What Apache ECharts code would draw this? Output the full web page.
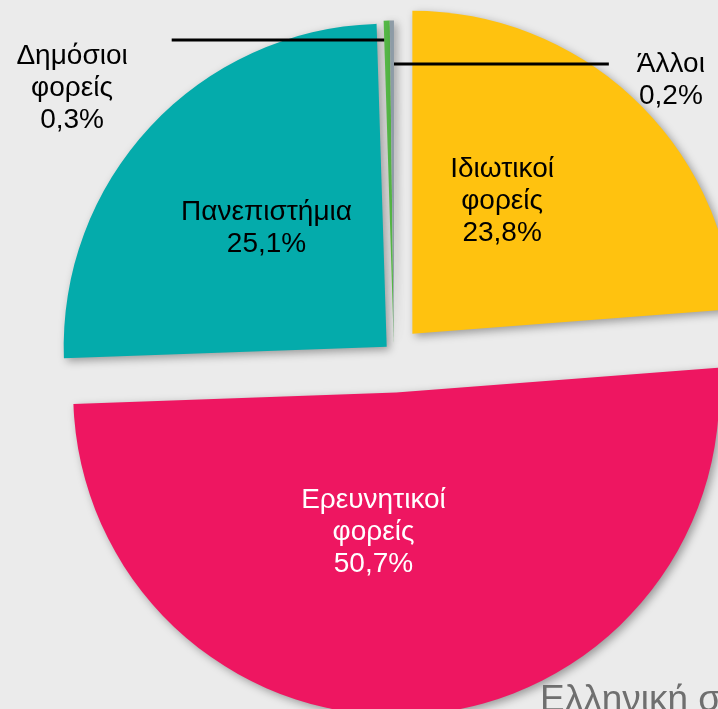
<!DOCTYPE html>
<html><head><meta charset="utf-8">
<script src="https://cdn.jsdelivr.net/npm/echarts@6/dist/echarts.min.js"></script>
<style>html,body{margin:0;padding:0;background:#ebebeb;overflow:hidden}#c{width:718px;height:709px}</style>
</head><body><div id="c"></div>
<script>
// ---- data ----
const categories = ['Ιδιωτικοί\nφορείς', 'Ερευνητικοί\nφορείς', 'Πανεπιστήμια', 'Δημόσιοι\nφορείς', 'Άλλοι'];
const shares = [23.8, 50.7, 25.1, 0.3, 0.2];
const footerText = 'Ελληνική σ';

// ---- styles ----
const colors = ['#FFC20F', '#EE1661', '#04ABAB', '#56B947', '#8D9BA6'];
const labelColors = ['#000', '#fff', '#000', '#000', '#000'];
const groups = [[0], [1], [2], [3, 4]];
const groupOffset = [27, 39, 10, 10];
// label shifts relative to the library's default label position
const labelShift = {0: [-22, -12], 1: [-32, -24], 2: [0, -6], 3: [-210, 19.5], 4: [318, 43.5]};
// leader-line labels: side of the slice, blank lines above, horizontal padding
const leaders = {3: {side: 'left', blank: 3, padding: [0, 44, 0, 0]},
                 4: {side: 'right', blank: 1, padding: [0, 0, 0, 28]}};
const FONT = '"Liberation Sans", Arial, sans-serif';

function pct(v) { return v.toFixed(1).replace('.', ',') + '%'; }
function fmtInside(p) { return p.name + '\n' + pct(p.value); }
function fmtLeader(p) {
  const lines = [];
  for (let k = 0; k < leaders[p.dataIndex].blank; k++) lines.push('{c| }');
  p.name.split('\n').forEach(t => lines.push('{c|' + t + '}'));
  lines.push('{c|' + pct(p.value) + '}');
  return lines.join('\n');
}

const series = groups.map((g, gi) => ({
  type: 'pie',
  center: [394, 353.5],
  radius: 323,
  startAngle: 90,
  clockwise: true,
  selectedMode: 'multiple',
  selectedOffset: groupOffset[gi],
  avoidLabelOverlap: false,
  silent: true,
  emphasis: {disabled: true},
  z: 2 + gi,
  data: categories.map((name, i) => {
    const on = g.indexOf(i) >= 0;
    const ld = leaders[i];
    return {
      name: name,
      value: shares[i],
      selected: on,
      itemStyle: on ? {
        color: colors[i], shadowBlur: 8, shadowOffsetX: 3, shadowOffsetY: 3,
        shadowColor: 'rgba(0,0,0,0.35)'
      } : {color: 'rgba(0,0,0,0)', borderWidth: 0},
      label: on ? {
        show: true,
        position: ld ? 'outside' : 'inside',
        formatter: ld ? fmtLeader : fmtInside,
        color: labelColors[i],
        fontFamily: FONT,
        fontSize: 28,
        lineHeight: 32,
        align: 'center',
        padding: ld ? ld.padding : 0,
        rich: {c: {align: 'center', fontFamily: FONT, fontSize: 28, lineHeight: 32, color: labelColors[i]}}
      } : {show: false},
      labelLine: on && ld ? {
        show: true, length: 0, length2: 0, smooth: false,
        lineStyle: {color: '#000', width: 3.2}
      } : {show: false}
    };
  }),
  labelLayout: function (p) {
    const i = p.dataIndex;
    const s = labelShift[i];
    if (!s) return;
    const out = {dx: s[0], dy: s[1]};
    const ld = leaders[i];
    if (ld && p.labelRect && p.rect) {
      const r = p.labelRect, h = p.rect;
      const y = Math.round(r.y + r.height / 2 + s[1]);
      if (ld.side === 'left') {
        const x0 = r.x + r.width + s[0];
        out.labelLinePoints = [[h.x + 1, y], [x0, y], [x0, y]];
      } else {
        const x0 = r.x + s[0];
        out.labelLinePoints = [[h.x + h.width, y], [x0, y], [x0, y]];
      }
    }
    return out;
  }
}));

const chart = echarts.init(document.getElementById('c'), null, {renderer: 'canvas'});
chart.setOption({
  backgroundColor: '#ebebeb',
  animation: false,
  title: {
    text: footerText, left: 535, top: 677,
    textStyle: {fontFamily: FONT, fontSize: 37, fontWeight: 'normal', color: '#6f6f6f'}
  },
  series: series
});
</script>
</body></html>
